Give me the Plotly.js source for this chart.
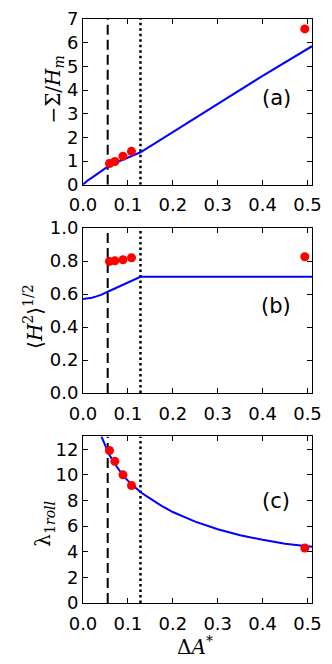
<!DOCTYPE html>
<html>
<head>
<meta charset="utf-8">
<script src="https://cdn.plot.ly/plotly-3.0.1.min.js"></script>
<style>
  html, body { margin: 0; padding: 0; background: #fff; }
  #chart { width: 332px; height: 664px; }
</style>
</head>
<body>
<div id="chart"></div>
<script>
// model curves
const sigmaX = [0, 0.005, 0.01, 0.02, 0.03, 0.04, 0.055, 0.07, 0.09, 0.11, 0.128, 0.2, 0.3, 0.4, 0.51];
const sigmaY = [0, 0.1, 0.17, 0.3, 0.43, 0.56, 0.76, 0.9, 1.07, 1.23, 1.37, 2.22, 3.4, 4.6, 5.85];

const hrmsX = [0, 0.01, 0.02, 0.03, 0.04, 0.055, 0.07, 0.085, 0.1, 0.115, 0.128, 0.2, 0.3, 0.4, 0.51];
const hrmsY = [0.57, 0.572, 0.578, 0.586, 0.595, 0.614, 0.633, 0.653, 0.673, 0.692, 0.705, 0.705, 0.705, 0.705, 0.705];

const lambdaX = [0.041, 0.05, 0.058, 0.07, 0.09, 0.11, 0.13, 0.15, 0.175, 0.2, 0.225, 0.25, 0.3, 0.35, 0.4, 0.45, 0.51];
const lambdaY = [13, 12.2, 11.6, 10.9, 9.9, 9.2, 8.6, 8.15, 7.58, 7.1, 6.7, 6.35, 5.75, 5.28, 4.93, 4.63, 4.38];

// simulation points
const simX = [0.059, 0.071, 0.089, 0.108, 0.494];
const simSigma = [0.89, 0.98, 1.2, 1.41, 6.58];
const simHrms = [0.798, 0.802, 0.808, 0.82, 0.826];
const simLambda = [11.9, 11.05, 10.0, 9.17, 4.29];

// vertical markers
const dashedX = 0.055;
const dottedX = 0.128;

const yTops = [7, 1, 13];
const panelLabels = ['(a)', '(b)', '(c)'];
const labelX = 0.43;
const labelY = [3.67, 0.525, 7.92];

const yTitles = ['−Σ/<i>H</i><sub><i>m</i></sub>', '⟨<i>H</i><sup>2</sup>⟩<sup>1/2</sup>', 'λ<sub>1<i>roll</i></sub>'];
const xTitle = 'Δ<i>A</i><sup>*</sup>';

const blue = '#0000ff';
const red = '#ff0000';

const curves = [[sigmaX, sigmaY], [hrmsX, hrmsY], [lambdaX, lambdaY]];
const sims = [simSigma, simHrms, simLambda];

const traces = [];
curves.forEach((c, i) => {
  const xa = i === 0 ? 'x' : 'x' + (i + 1);
  const ya = i === 0 ? 'y' : 'y' + (i + 1);
  traces.push({
    x: [dashedX, dashedX], y: [0, yTops[i]], xaxis: xa, yaxis: ya,
    mode: 'lines', line: { color: 'black', width: 2, dash: '10px,5px' },
    showlegend: false, hoverinfo: 'skip'
  });
  traces.push({
    x: [dottedX, dottedX], y: [0, yTops[i]], xaxis: xa, yaxis: ya,
    mode: 'lines', line: { color: 'black', width: 2.5, dash: '2.5px,3px' },
    showlegend: false, hoverinfo: 'skip'
  });
  traces.push({
    x: c[0], y: c[1], xaxis: xa, yaxis: ya,
    mode: 'lines', line: { color: blue, width: 2 },
    showlegend: false
  });
  traces.push({
    x: simX, y: sims[i], xaxis: xa, yaxis: ya,
    mode: 'markers', marker: { color: red, size: 9 },
    showlegend: false, cliponaxis: false
  });
});

const tickFont = { family: 'DejaVu Sans', size: 18, color: 'black' };
const titleFont = { family: 'DejaVu Serif', size: 20, color: 'black' };

function xAxis(anchor) {
  return {
    anchor: anchor, range: [0, 0.51], dtick: 0.1, tick0: 0, tickformat: '.1f',
    ticks: 'inside', ticklen: 5, tickcolor: 'black', mirror: 'ticks',
    showline: true, linecolor: 'black', linewidth: 1, showgrid: false, zeroline: false,
    tickfont: tickFont, ticklabelstandoff: 4
  };
}
function yAxis(anchor, domain, range, dtick, fmt) {
  return {
    anchor: anchor, domain: domain, range: range, dtick: dtick, tickformat: fmt,
    ticks: 'inside', ticklen: 5, tickcolor: 'black', mirror: 'ticks',
    showline: true, linecolor: 'black', linewidth: 1, showgrid: false, zeroline: false,
    tickfont: tickFont
  };
}

// title placements in paper units
const titlePos = [[-0.127, 0.879], [-0.218, 0.49], [-0.17, 0.136]];

const annotations = panelLabels.map((t, i) => ({
  text: t, x: labelX, y: labelY[i],
  xref: i === 0 ? 'x' : 'x' + (i + 1), yref: i === 0 ? 'y' : 'y' + (i + 1),
  showarrow: false, font: { family: 'DejaVu Sans', size: 21, color: 'black' }
}));
yTitles.forEach((t, i) => annotations.push({
  text: t, x: titlePos[i][0], y: titlePos[i][1], xref: 'paper', yref: 'paper',
  xanchor: 'center', yanchor: 'middle', textangle: -90, showarrow: false, font: titleFont
}));
annotations.push({
  text: xTitle, x: 0.489, y: -0.074, xref: 'paper', yref: 'paper',
  xanchor: 'center', yanchor: 'middle', showarrow: false, font: titleFont
});

const layout = {
  width: 332, height: 664,
  margin: { l: 83, r: 20, t: 19, b: 61 },
  paper_bgcolor: 'white', plot_bgcolor: 'white',
  xaxis: xAxis('y'),
  yaxis: yAxis('x', [0.7163, 1], [0, 7], 1, 'd'),
  xaxis2: xAxis('y2'),
  yaxis2: yAxis('x2', [0.3596, 0.642], [0, 1], 0.2, '.1f'),
  xaxis3: xAxis('y3'),
  yaxis3: yAxis('x3', [0, 0.2853], [0, 13], 2, 'd'),
  annotations: annotations
};

Plotly.newPlot('chart', traces, layout, { staticPlot: true });
</script>
</body>
</html>
